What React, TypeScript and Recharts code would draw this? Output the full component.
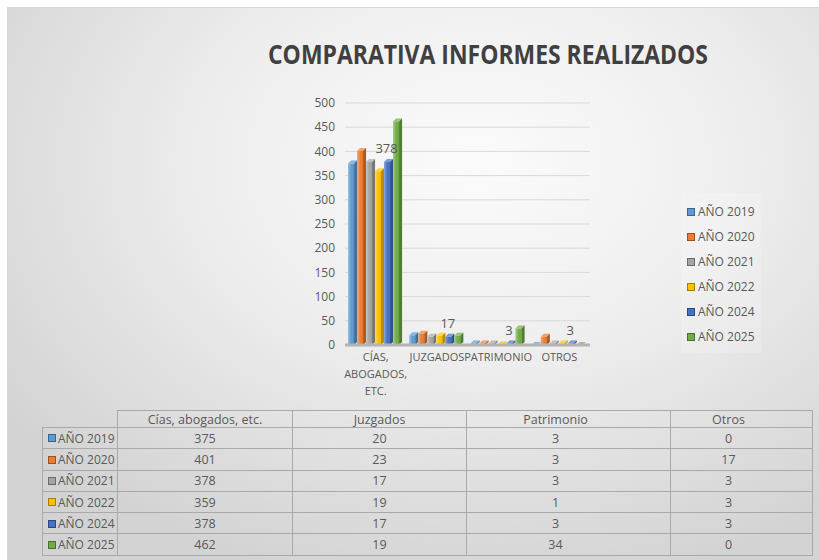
import { Bar, BarChart, CartesianGrid, LabelList, Legend, Text, XAxis, YAxis } from "recharts";

const categories = ["Cías, abogados, etc.", "Juzgados", "Patrimonio", "Otros"];
const years = ["AÑO 2019", "AÑO 2020", "AÑO 2021", "AÑO 2022", "AÑO 2024", "AÑO 2025"];
const colors = ["#5B9BD5", "#ED7D31", "#A5A5A5", "#FFC000", "#4472C4", "#70AD47"];

const y2019 = [375, 20, 3, 0];
const y2020 = [401, 23, 3, 17];
const y2021 = [378, 17, 3, 3];
const y2022 = [359, 19, 1, 3];
const y2024 = [378, 17, 3, 3];
const y2025 = [462, 19, 34, 0];

const yTicks = [0, 50, 100, 150, 200, 250, 300, 350, 400, 450, 500];

const series = [y2019, y2020, y2021, y2022, y2024, y2025];

const data = categories.map((name, i) => {
  const row: { [key: string]: string | number } = { name };
  years.forEach((year, j) => {
    row[year] = series[j][i];
  });
  return row;
});

const FONT = "'Open Sans', 'Liberation Sans', sans-serif";
const TEXT = "#595959";

// fake 3D: front face + lighter top + darker right side
function Bar3D(props: any) {
  const { x, y, width, height, fill } = props;
  if (!width || width <= 0) return null;
  const d = 3;
  const h = Math.max(height || 0, 0);
  const top = `${x},${y} ${x + d},${y - d} ${x + width},${y - d} ${x + width - d},${y}`;
  const side = `${x + width - d},${y} ${x + width},${y - d} ${x + width},${y + h - d} ${x + width - d},${y + h}`;
  return (
    <g>
      <rect x={x} y={y} width={width - d} height={h} fill={fill} />
      <rect x={x} y={y} width={width - d} height={h} fill="url(#shine)" />
      <polygon points={top} fill={fill} />
      <polygon points={top} fill="#fff" fillOpacity={0.3} />
      <polygon points={side} fill={fill} />
      <polygon points={side} fill="#000" fillOpacity={0.28} />
    </g>
  );
}

function CategoryTick(props: any) {
  const { x, y, payload } = props;
  return (
    <Text
      x={x}
      y={y}
      width={62}
      textAnchor="middle"
      verticalAnchor="start"
      fontSize={11}
      lineHeight={17}
      fill={TEXT}
      fontFamily={FONT}
    >
      {String(payload.value).toUpperCase()}
    </Text>
  );
}

function ValueLabel(props: any) {
  const { x, y, width, value } = props;
  return (
    <text
      x={x + width / 2 + 16}
      y={y - 9}
      textAnchor="middle"
      fontSize={13}
      fill={TEXT}
      fontFamily={FONT}
    >
      {value}
    </text>
  );
}

function LegendBox(props: any) {
  const { payload } = props;
  return (
    <div
      style={{
        background: "rgba(255,255,255,0.18)",
        padding: "6px 4px 4px 6px",
        fontFamily: FONT,
        fontSize: 12,
        color: TEXT,
      }}
    >
      {(payload || []).map((entry: any) => (
        <div key={entry.value} style={{ display: "flex", alignItems: "center", height: 25 }}>
          <span
            style={{
              width: 6,
              height: 6,
              background: entry.color,
              border: "1px solid rgba(0,0,0,0.35)",
              marginRight: 3,
            }}
          />
          {entry.value}
        </div>
      ))}
    </div>
  );
}

const colWidths = [75, 175, 174, 204, 142];
const colPadRight = [0, 0, 0, 26, 26];
const cellBorder = "1px solid #a9a9a9";

function DataTable() {
  return (
    <table
      style={{
        position: "absolute",
        left: 42,
        top: 410,
        width: 770,
        borderCollapse: "collapse",
        tableLayout: "fixed",
        fontFamily: FONT,
        fontSize: 12.5,
        color: TEXT,
      }}
    >
      <colgroup>
        {colWidths.map((w, i) => (
          <col key={i} style={{ width: w }} />
        ))}
      </colgroup>
      <tbody>
        <tr style={{ height: 17 }}>
          <td style={{ border: "none", padding: 0 }} />
          {categories.map((c, i) => (
            <td
              key={c}
              style={{
                border: cellBorder,
                textAlign: "center",
                padding: 0,
                paddingRight: colPadRight[i + 1],
                lineHeight: "15px",
              }}
            >
              {c}
            </td>
          ))}
        </tr>
        {years.map((year, j) => (
          <tr key={year} style={{ height: 21.3 }}>
            <td
              style={{
                border: cellBorder,
                padding: "0 0 0 5px",
                whiteSpace: "nowrap",
                fontSize: 12,
              }}
            >
              <span
                style={{
                  display: "inline-block",
                  width: 6,
                  height: 6,
                  background: colors[j],
                  border: "1px solid rgba(0,0,0,0.35)",
                  marginRight: 2,
                  verticalAlign: "middle",
                  position: "relative",
                  top: -1,
                }}
              />
              {year}
            </td>
            {series[j].map((v, i) => (
              <td
                key={i}
                style={{
                  border: cellBorder,
                  textAlign: "center",
                  padding: 0,
                  paddingRight: colPadRight[i + 1],
                }}
              >
                {v}
              </td>
            ))}
          </tr>
        ))}
      </tbody>
    </table>
  );
}

export default function App() {
  return (
    <div style={{ position: "absolute", left: 0, top: 0, width: 819, height: 560, background: "#fff" }}>
      <div
        style={{
          position: "absolute",
          left: 7,
          top: 7,
          width: 812,
          height: 553,
          borderTop: "1px solid #d8d8d8",
          borderLeft: "1px solid #d8d8d8",
          boxSizing: "border-box",
          background:
            "radial-gradient(ellipse 72% 78% at 58% 28%, #fbfbfb 0%, #eeeeee 45%, #d3d3d3 100%)",
        }}
      />
      <svg style={{ position: "absolute", left: 0, top: 0 }} width={819} height={90}>
        <text
          x={488}
          y={64}
          textAnchor="middle"
          fontSize={27}
          fontWeight="bold"
          fill="#404040"
          fontFamily={FONT}
          textLength={440}
          lengthAdjust="spacingAndGlyphs"
        >
          COMPARATIVA INFORMES REALIZADOS
        </text>
      </svg>
      <div style={{ position: "absolute", left: 0, top: 0 }}>
        <BarChart
          width={819}
          height={410}
          data={data}
          margin={{ top: 103, right: 229, left: 305, bottom: 10 }}
          barCategoryGap="5%"
          barGap={0}
        >
          <defs>
            <linearGradient id="shine" x1="0" y1="0" x2="1" y2="0">
              <stop offset="0%" stopColor="#fff" stopOpacity={0.35} />
              <stop offset="55%" stopColor="#fff" stopOpacity={0} />
              <stop offset="100%" stopColor="#000" stopOpacity={0.08} />
            </linearGradient>
          </defs>
          <CartesianGrid vertical={false} stroke="#d9d9d9" />
          <XAxis
            dataKey="name"
            height={55}
            interval={0}
            tickLine={false}
            axisLine={{ stroke: "#b3b3b3", strokeWidth: 3 }}
            tick={(p: any) => <CategoryTick {...p} />}
          />
          <YAxis
            width={40}
            domain={[0, 500]}
            ticks={yTicks}
            interval={0}
            tickLine={false}
            axisLine={false}
            tickMargin={4}
            tick={{ fontSize: 12, fill: TEXT, fontFamily: FONT }}
          />
          <Legend
            layout="vertical"
            align="center"
            verticalAlign="middle"
            wrapperStyle={{ left: 681, top: 193, width: 80 }}
            content={(p: any) => <LegendBox {...p} />}
          />
          {years.map((year, j) => (
            <Bar
              key={year}
              dataKey={year}
              fill={colors[j]}
              isAnimationActive={false}
              shape={(p: any) => <Bar3D {...p} />}
            >
              {year === "AÑO 2021" && (
                <LabelList dataKey={year} content={(p: any) => <ValueLabel {...p} />} />
              )}
            </Bar>
          ))}
        </BarChart>
      </div>
      <DataTable />
    </div>
  );
}
